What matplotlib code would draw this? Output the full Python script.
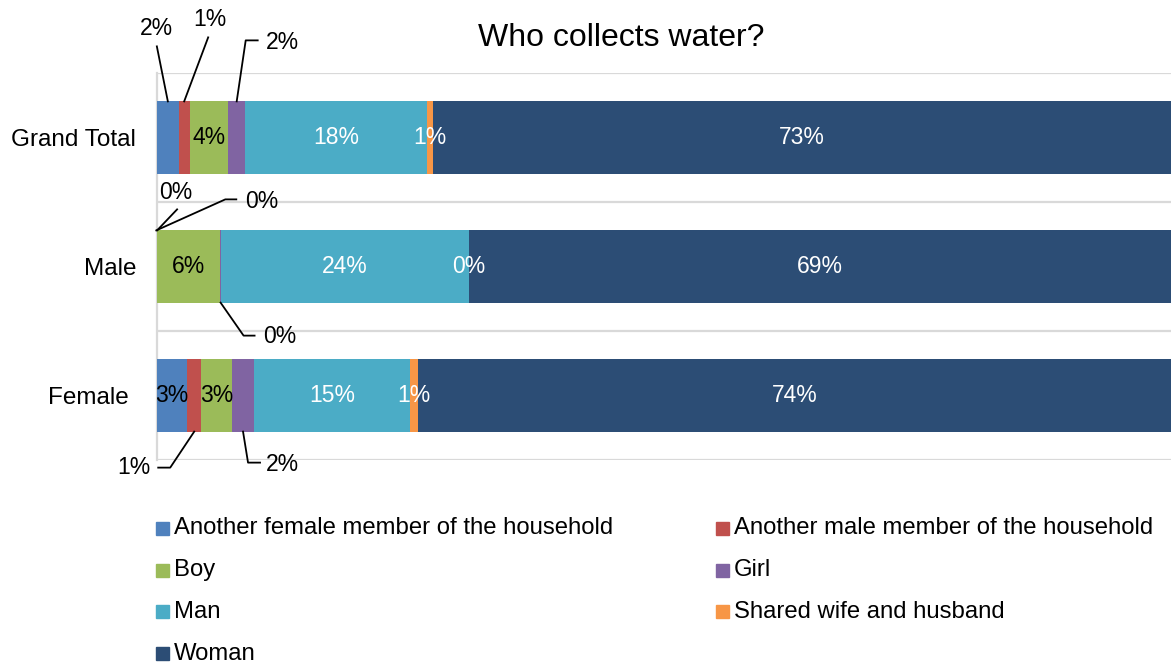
import matplotlib
matplotlib.use("Agg")
import matplotlib.pyplot as plt
from matplotlib.lines import Line2D
from matplotlib.patches import Rectangle
from matplotlib.transforms import IdentityTransform, ScaledTranslation

plt.rcParams["font.family"] = ["Liberation Sans", "DejaVu Sans"]

# share (%) of each collector, per respondent group
categories = ["Grand Total", "Male", "Female"]
series = ["Another female member of the household",
          "Another male member of the household",
          "Boy", "Girl", "Man", "Shared wife and husband", "Woman"]
another_female = [2.14, 0.02, 2.96]
another_male = [1.08, 0.02, 1.42]
boy = [3.82, 6.20, 3.02]
girl = [1.64, 0.06, 2.17]
man = [17.92, 24.45, 15.40]
shared = [0.59, 0.02, 0.73]
woman = [72.81, 69.23, 74.30]

values = [another_female, another_male, boy, girl, man, shared, woman]
colors = ["#4F81BD", "#C0504D", "#9BBB59", "#8064A2", "#4BACC6", "#F79646", "#2C4D75"]
label_colors = ["black", "black", "black", "black", "white", "white", "white"]

# labels pulled out of thin segments: (category, series) -> (edge, leader pts, text pos, ha)
# offsets are pixels from the segment centre on the bar edge, y pointing down
leaders = {
    (0, 0): ("top", [(0, 0), (-11, -55)], (-11, -73), "center"),
    (0, 1): ("top", [(0, 0), (24, -64)], (26, -82), "center"),
    (0, 3): ("top", [(0, 0), (9, -61), (21, -61)], (29, -59), "left"),
    (1, 0): ("top", [(0, 0), (20, -21)], (19, -38), "center"),
    (1, 1): ("top", [(-1, 0), (68, -31), (79, -31)], (88, -29), "left"),
    (1, 3): ("bottom", [(0, 0), (23, 33), (34, 33)], (43, 34), "left"),
    (2, 1): ("bottom", [(0, 0), (-24, 36), (-36, 36)], (-44, 36), "right"),
    (2, 3): ("bottom", [(0, 0), (5, 31), (17, 31)], (23, 33), "left"),
}

W, H = 1171, 664
fig = plt.figure(figsize=(W / 100, H / 100), dpi=100)
ax = fig.add_axes([157 / W, (H - 460) / H, (W - 157) / W, 387 / H])

bar_h = 0.56
ypos = list(range(len(categories)))
left = [0.0] * len(categories)
for s, vals in enumerate(values):
    ax.barh(ypos, vals, left=left, height=bar_h, color=colors[s],
            linewidth=0, zorder=3)
    left = [l + v for l, v in zip(left, vals)]

ax.set_xlim(0, 100)
ax.set_ylim(2.5, -0.5)
for y in [-0.5, 0.5, 1.5, 2.5]:
    ax.axhline(y, color="#D9D9D9", lw=1.6, zorder=1)
for side in ["top", "right", "bottom"]:
    ax.spines[side].set_visible(False)
ax.spines["left"].set_color("#D9D9D9")
ax.spines["left"].set_linewidth(1.6)
ax.set_xticks([])
ax.set_yticks(ypos)
ax.set_yticklabels(categories, fontsize=17.5)
ax.tick_params(axis="y", length=0, pad=15)
ax.get_yticklabels()[2].set_transform(
    ax.get_yticklabels()[2].get_transform() + ScaledTranslation(-0.07, 0, fig.dpi_scale_trans))

fig.canvas.draw()

# segment labels
for c in range(len(categories)):
    start = 0.0
    for s, vals in enumerate(values):
        v = vals[c]
        mid = start + v / 2
        start += v
        txt = f"{round(v)}%"
        if (c, s) in leaders:
            edge, pts, tpos, ha = leaders[(c, s)]
            ey = c - bar_h / 2 if edge == "top" else c + bar_h / 2
            ax_, ay_ = ax.transData.transform((mid, ey))
            xs = [ax_ + dx for dx, dy in pts]
            ys = [ay_ - dy for dx, dy in pts]
            fig.add_artist(Line2D(xs, ys, color="black", lw=1.3,
                                  transform=IdentityTransform()))
            fig.text(ax_ + tpos[0], ay_ - tpos[1], txt, transform=IdentityTransform(),
                     ha=ha, va="center", fontsize=16.5, color="black")
        else:
            ax.text(mid, c, txt, ha="center", va="center", fontsize=16.5,
                    color=label_colors[s], zorder=4)

fig.text(621 / W, 1 - 38 / H, "Who collects water?", ha="center", va="center", fontsize=23)

# legend, two columns filled row by row
col_x = [156, 716]
row_y = 528.5
row_gap = 41.7
for i, name in enumerate(series):
    x = col_x[i % 2]
    y = row_y + (i // 2) * row_gap
    fig.add_artist(Rectangle((x / W, 1 - (y + 6.5) / H), 13 / W, 13 / H,
                             transform=fig.transFigure, color=colors[i]))
    fig.text((x + 18) / W, 1 - y / H, name, ha="left", va="center", fontsize=17.2)

fig.savefig("out.png", dpi=100)
